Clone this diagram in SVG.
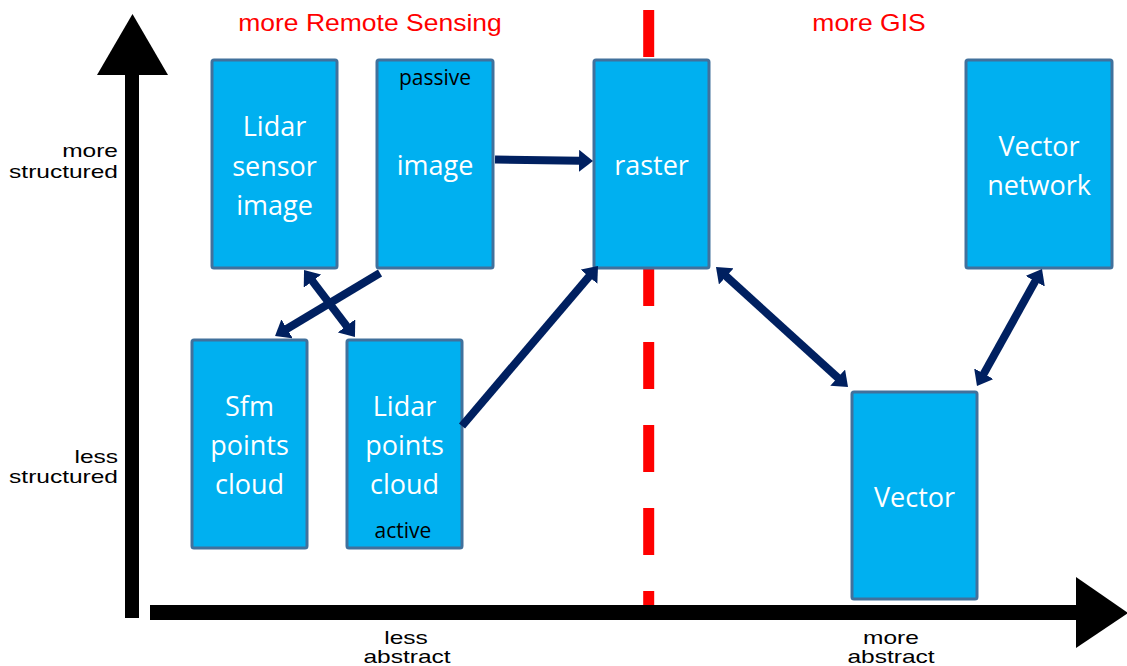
<svg xmlns="http://www.w3.org/2000/svg" width="1127" height="666" viewBox="0 0 1127 666">
<style>
.box{fill:#00B0F0;stroke:#41719C;stroke-width:3}
.bt{font-family:"Open Sans","Noto Sans",sans-serif;font-size:27px;fill:#FFFFFF;text-anchor:middle}
.small{font-family:"Open Sans","Noto Sans",sans-serif;font-size:21px;fill:#000000;text-anchor:middle}
.ax{font-family:"Liberation Sans",Arial,sans-serif;font-size:24.5px;fill:#000000}
.red{font-family:"Liberation Sans",Arial,sans-serif;font-size:26.5px;fill:#FF0000;text-anchor:middle}
.con{stroke:#002060;stroke-width:8;fill:none}
</style>
<defs>
<marker id="ah" viewBox="0 -11 14 22" refX="1" refY="0" markerWidth="14" markerHeight="22" markerUnits="userSpaceOnUse" orient="auto-start-reverse">
<path d="M0,-11 L14,0 L0,11 z" fill="#002060"/>
</marker>
</defs>
<rect width="1127" height="666" fill="#FFFFFF"/>

<g id="divider">
<line x1="648.7" y1="10" x2="648.7" y2="605" stroke="#FF0000" stroke-width="11" stroke-dasharray="47 36"/>
</g>

<g id="axes">
<rect x="125" y="74" width="14" height="544" fill="#000"/>
<polygon points="97,75 168,75 132.5,14" fill="#000"/>
<rect x="150" y="605" width="927" height="15" fill="#000"/>
<polygon points="1076,577 1076,648 1128,613" fill="#000"/>
</g>

<g id="labels">
<text class="red" transform="translate(370,31) scale(1,0.88)">more Remote Sensing</text>
<text class="red" transform="translate(869,31) scale(1,0.88)">more GIS</text>
<text class="ax" text-anchor="end" transform="translate(118,157) scale(1,0.75)">more</text>
<text class="ax" text-anchor="end" transform="translate(118,178) scale(1,0.75)">structured</text>
<text class="ax" text-anchor="end" transform="translate(118,463) scale(1,0.75)">less</text>
<text class="ax" text-anchor="end" transform="translate(118,483) scale(1,0.75)">structured</text>
<text class="ax" text-anchor="middle" transform="translate(406,644) scale(1,0.75)">less</text>
<text class="ax" text-anchor="middle" transform="translate(407,663) scale(1,0.75)">abstract</text>
<text class="ax" text-anchor="middle" transform="translate(891,644) scale(1,0.75)">more</text>
<text class="ax" text-anchor="middle" transform="translate(891,663) scale(1,0.75)">abstract</text>
</g>

<g id="lidar-sensor-image">
<rect class="box" x="212" y="60" width="125" height="208" rx="2"/>
<text class="bt" x="274.5" y="136">Lidar</text>
<text class="bt" x="274.5" y="175.5">sensor</text>
<text class="bt" x="274.5" y="215">image</text>
</g>

<g id="image">
<rect class="box" x="377" y="60" width="116" height="208" rx="2"/>
<text class="small" x="435" y="85">passive</text>
<text class="bt" x="435" y="175">image</text>
</g>

<g id="raster">
<rect class="box" x="594" y="60" width="115" height="208" rx="2"/>
<text class="bt" x="651.5" y="175">raster</text>
</g>

<g id="vector-network">
<rect class="box" x="966" y="60" width="146" height="208" rx="2"/>
<text class="bt" x="1039" y="156">Vector</text>
<text class="bt" x="1039" y="195">network</text>
</g>

<g id="sfm-points-cloud">
<rect class="box" x="192" y="340" width="115" height="208" rx="2"/>
<text class="bt" x="249.5" y="416">Sfm</text>
<text class="bt" x="249.5" y="455">points</text>
<text class="bt" x="249.5" y="494">cloud</text>
</g>

<g id="lidar-points-cloud">
<rect class="box" x="347" y="340" width="115" height="208" rx="2"/>
<text class="bt" x="404.5" y="416">Lidar</text>
<text class="bt" x="404.5" y="455">points</text>
<text class="bt" x="404.5" y="494">cloud</text>
<text class="small" x="403" y="538">active</text>
</g>

<g id="vector">
<rect class="box" x="852" y="392" width="125" height="207" rx="2"/>
<text class="bt" x="914.5" y="507">Vector</text>
</g>

<g id="connectors">
<line class="con" x1="495" y1="159.5" x2="580" y2="160.8" marker-end="url(#ah)"/>
<line class="con" x1="380" y1="273" x2="286.2" y2="329.3" marker-end="url(#ah)"/>
<line class="con" x1="311.9" y1="280.3" x2="347.1" y2="326.7" marker-start="url(#ah)" marker-end="url(#ah)"/>
<line class="con" x1="462" y1="426" x2="589.6" y2="275.9" marker-end="url(#ah)"/>
<line class="con" x1="725.6" y1="275.7" x2="838.4" y2="378.3" marker-start="url(#ah)" marker-end="url(#ah)"/>
<line class="con" x1="1035.7" y1="280.4" x2="983.3" y2="374.6" marker-start="url(#ah)" marker-end="url(#ah)"/>
</g>
</svg>
